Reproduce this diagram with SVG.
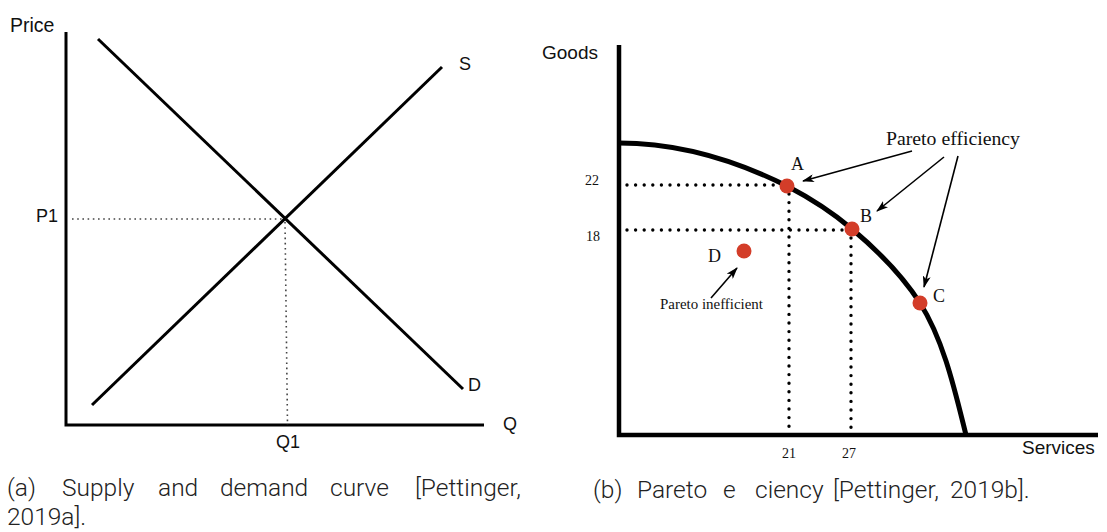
<svg xmlns="http://www.w3.org/2000/svg" width="1107" height="532" viewBox="0 0 1107 532">
<style>
.sans{font-family:"Liberation Sans",Arial,sans-serif;fill:#111}
.serif{font-family:"Liberation Serif","Times New Roman",serif;fill:#111}
.cap{font-family:Roboto,"Open Sans",sans-serif;font-weight:300;font-size:24.5px;fill:#222}
.ax{stroke:#000;stroke-width:3;fill:none}
.ax2{stroke:#000;stroke-width:4.5;fill:none}
.dotL{stroke:#444;stroke-width:1.6;stroke-dasharray:1.6 3.6;fill:none}
.dotR{stroke:#000;stroke-width:3.4;stroke-dasharray:0 8.6;stroke-linecap:round;fill:none}
.arr{stroke:#000;stroke-width:1.6;fill:none;marker-end:url(#ah)}
.pt{fill:#d33d29}
</style>
<defs>
<marker id="ah" viewBox="0 0 12 8" refX="11" refY="4" markerWidth="12" markerHeight="8" markerUnits="userSpaceOnUse" orient="auto">
<path d="M0,0 L12,4 L0,8 L3,4 z" fill="#000"/>
</marker>
</defs>
<rect width="1107" height="532" fill="#fff"/>

<!-- Left chart: supply and demand -->
<g id="left-axes">
<path class="ax" d="M66,32 V425 H484"/>
<text class="sans" x="10" y="32" font-size="19.5">Price</text>
<text class="sans" x="503" y="430" font-size="18">Q</text>
</g>
<g id="left-connectors">
<line class="dotL" x1="72" y1="219" x2="284" y2="219"/>
<line class="dotL" x1="285" y1="222" x2="287.5" y2="425"/>
</g>
<g id="supply">
<line stroke="#000" stroke-width="3" x1="92" y1="405" x2="442" y2="67"/>
<text class="sans" x="459" y="70" font-size="18">S</text>
</g>
<g id="demand">
<line stroke="#000" stroke-width="3" x1="98" y1="39" x2="463" y2="389"/>
<text class="sans" x="468" y="391" font-size="18">D</text>
</g>
<g id="labels-left">
<text class="sans" x="36" y="222" font-size="18">P1</text>
<text class="sans" x="276" y="448" font-size="18">Q1</text>
</g>

<!-- Right chart: Pareto efficiency -->
<g id="right-axes">
<path class="ax2" d="M619,45 V435 H1098"/>
<text class="sans" x="542" y="59" font-size="19">Goods</text>
<text class="sans" x="1022" y="454" font-size="19">Services</text>
</g>
<g id="right-connectors">
<line class="dotR" x1="627" y1="185" x2="782" y2="185"/>
<line class="dotR" x1="627" y1="230" x2="846" y2="230"/>
<line class="dotR" x1="789" y1="194" x2="789" y2="430"/>
<line class="dotR" x1="851" y1="238" x2="851" y2="430"/>
<path class="arr" d="M912,151 L803,181"/>
<path class="arr" d="M944,157 L877,211"/>
<path class="arr" d="M958,156 L924,287"/>
<path class="arr" d="M711,298 L737,268"/>
</g>
<g id="frontier">
<path d="M619,143 C675,143 733,159 787,186 C810,198 832,212 852,229 C877,250 902,275 920,303 C944,341 955,391 966,435" stroke="#000" stroke-width="5" fill="none"/>
</g>
<g id="ticks">
<text class="serif" x="585" y="185" font-size="14">22</text>
<text class="serif" x="586" y="241" font-size="14">18</text>
<text class="serif" x="782" y="458" font-size="14">21</text>
<text class="serif" x="842" y="458" font-size="14">27</text>
</g>
<g id="point-A">
<circle class="pt" cx="787" cy="186" r="7.5"/>
<text class="serif" x="791" y="170" font-size="18">A</text>
</g>
<g id="point-B">
<circle class="pt" cx="852" cy="229" r="7.5"/>
<text class="serif" x="860" y="222" font-size="18">B</text>
</g>
<g id="point-C">
<circle class="pt" cx="920" cy="303" r="7.5"/>
<text class="serif" x="933" y="302" font-size="18">C</text>
</g>
<g id="point-D">
<circle class="pt" cx="744" cy="251" r="7.5"/>
<text class="serif" x="708" y="262" font-size="18">D</text>
</g>
<g id="label-efficiency">
<text class="serif" x="886" y="145" font-size="18" textLength="134" lengthAdjust="spacingAndGlyphs">Pareto efficiency</text>
</g>
<g id="label-inefficient">
<text class="serif" x="660" y="309" font-size="14" textLength="103" lengthAdjust="spacingAndGlyphs">Pareto inefficient</text>
</g>

<!-- Captions -->
<g id="caption-a">
<text class="cap" y="496"><tspan x="7">(a)</tspan><tspan x="62">Supply</tspan><tspan x="158">and</tspan><tspan x="220">demand</tspan><tspan x="330">curve</tspan><tspan x="415">[Pettinger,</tspan></text>
<text class="cap" x="7" y="525">2019a].</text>
</g>
<g id="caption-b">
<text class="cap" y="498"><tspan x="593">(b)</tspan><tspan x="637">Pareto</tspan><tspan x="723">e</tspan><tspan x="755">ciency</tspan><tspan x="833">[Pettinger,</tspan><tspan x="950">2019b].</tspan></text>
</g>
</svg>
